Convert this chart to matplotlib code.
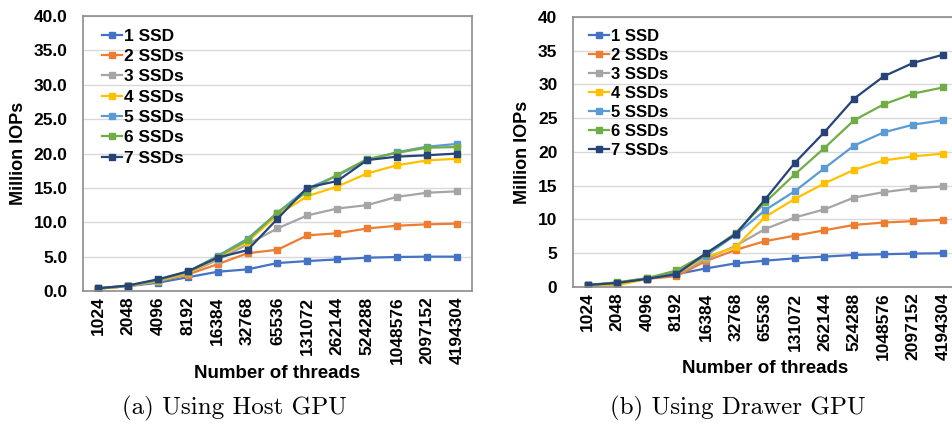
import numpy as np
import matplotlib
matplotlib.use("Agg")
import matplotlib.pyplot as plt

threads = ["1024", "2048", "4096", "8192", "16384", "32768", "65536", "131072",
           "262144", "524288", "1048576", "2097152", "4194304"]
labels = ["1 SSD", "2 SSDs", "3 SSDs", "4 SSDs", "5 SSDs", "6 SSDs", "7 SSDs"]
colors = ["#4472C4", "#ED7D31", "#A5A5A5", "#FFC000", "#5B9BD5", "#70AD47", "#264478"]

# (a) host GPU
host_1 = [0.34, 0.7, 1.2, 2.0, 2.8, 3.15, 4.07, 4.36, 4.6, 4.85, 4.95, 5.0, 5.0]
host_2 = [0.35, 0.7, 1.4, 2.4, 3.9, 5.5, 6.0, 8.1, 8.4, 9.1, 9.5, 9.7, 9.8]
host_3 = [0.35, 0.7, 1.4, 2.6, 4.5, 6.8, 9.1, 11.0, 12.0, 12.5, 13.7, 14.3, 14.5]
host_4 = [0.35, 0.7, 1.5, 2.6, 4.85, 7.2, 11.05, 13.8, 15.2, 17.1, 18.3, 19.0, 19.25]
host_5 = [0.4, 0.75, 1.6, 2.8, 5.1, 7.6, 11.4, 14.9, 16.8, 19.05, 20.2, 21.0, 21.4]
host_6 = [0.4, 0.75, 1.6, 2.8, 5.0, 7.4, 11.4, 14.45, 16.9, 19.2, 20.1, 20.85, 20.95]
host_7 = [0.4, 0.8, 1.7, 2.85, 4.85, 5.95, 10.5, 15.05, 16.0, 19.05, 19.55, 19.75, 20.0]

# (b) drawer GPU
drawer_1 = [0.25, 0.6, 1.2, 1.9, 2.75, 3.5, 3.9, 4.25, 4.5, 4.75, 4.85, 4.95, 5.0]
drawer_2 = [0.3, 0.5, 1.2, 1.6, 3.85, 5.5, 6.8, 7.6, 8.4, 9.2, 9.55, 9.75, 9.95]
drawer_3 = [0.3, 0.5, 1.2, 1.9, 4.15, 6.1, 8.6, 10.3, 11.5, 13.25, 14.05, 14.6, 14.9]
drawer_4 = [0.2, 0.25, 1.2, 2.0, 4.45, 5.9, 10.4, 13.05, 15.35, 17.35, 18.75, 19.35, 19.75]
drawer_5 = [0.3, 0.6, 1.3, 2.2, 4.65, 7.75, 11.4, 14.2, 17.6, 20.95, 22.9, 24.05, 24.7]
drawer_6 = [0.3, 0.7, 1.3, 2.45, 4.9, 8.0, 12.55, 16.7, 20.6, 24.7, 27.05, 28.65, 29.55]
drawer_7 = [0.3, 0.6, 1.2, 1.9, 5.0, 7.8, 13.0, 18.4, 22.95, 27.9, 31.2, 33.2, 34.4]

host = [host_1, host_2, host_3, host_4, host_5, host_6, host_7]
drawer = [drawer_1, drawer_2, drawer_3, drawer_4, drawer_5, drawer_6, drawer_7]

fig = plt.figure(figsize=(9.53, 4.23), dpi=100)
ax1 = fig.add_axes([0.0871, 0.312, 0.408, 0.650])
ax2 = fig.add_axes([0.601, 0.3215, 0.404, 0.6385])


def draw(ax, data, fmt, legsize, ylab_x, xlab_y, leg_anchor, legspace):
    x = np.arange(len(threads))
    for vals, lab, c in zip(data, labels, colors):
        ax.plot(x, vals, color=c, lw=1.6, marker="s", markersize=4.5, label=lab)
    ax.set_xlim(-0.5, len(threads) - 0.5)
    ax.set_ylim(0, 40)
    ax.set_yticks(np.arange(0, 41, 5))
    ax.set_yticklabels([fmt % v for v in np.arange(0, 41, 5)])
    ax.set_xticks(x)
    ax.set_xticklabels(threads, rotation=90)
    for t in ax.get_xticklabels() + ax.get_yticklabels():
        t.set_fontweight("bold")
        t.set_fontsize(12.5)
        t.set_family("Liberation Sans")
    ax.tick_params(axis="y", length=0, pad=11)
    ax.tick_params(axis="x", length=0, pad=4)
    ax.grid(axis="y", color="#d9d9d9", lw=1)
    ax.set_axisbelow(True)
    for s in ax.spines.values():
        s.set_color("#8c8c8c")
        s.set_linewidth(1.2)
    ax.set_ylabel("Million IOPs", fontsize=13, fontweight="bold", family="Liberation Sans")
    ax.yaxis.set_label_coords(ylab_x, 0.5)
    ax.set_xlabel("Number of threads", fontsize=13.5, fontweight="bold",
                  family="Liberation Sans")
    ax.xaxis.set_label_coords(0.5, xlab_y)
    ax.xaxis.label.set_va("center")
    ax.yaxis.label.set_va("center")
    ax.legend(loc="upper left", frameon=False, prop={"family": "Liberation Sans",
              "weight": "bold", "size": legsize}, handlelength=1.2, handletextpad=0.1,
              labelspacing=legspace, borderaxespad=0.0, bbox_to_anchor=leg_anchor)


draw(ax1, host, "%.1f", 12.5, -0.167, -0.3, (0.03, 0.98), 0.3)
draw(ax2, drawer, "%d", 12, -0.13, -0.30, (0.025, 0.98), 0.24)

fig.text(0.2455, 0.02, "(a) Using Host GPU", family="cmr10", fontsize=18, ha="center")
fig.text(0.774, 0.02, "(b) Using Drawer GPU", family="cmr10", fontsize=18, ha="center")

fig.savefig("out.png", dpi=100)
